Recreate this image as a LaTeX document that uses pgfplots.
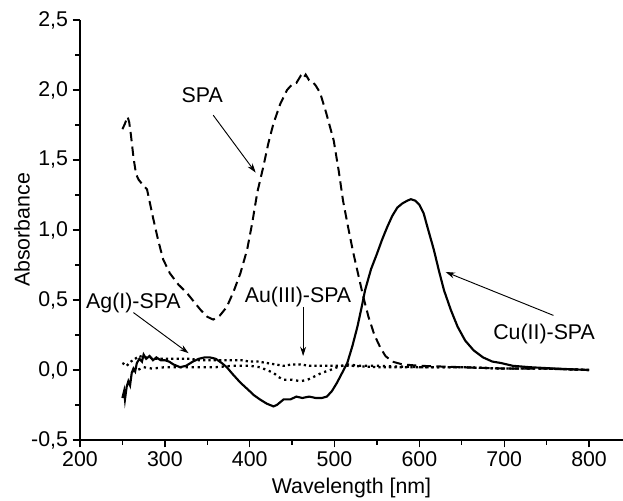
\documentclass[border=0pt]{standalone}
\usepackage{pgfplots}
\pgfplotsset{compat=1.18}
\usepackage{fontspec}
\setmainfont{Liberation Sans}
\usetikzlibrary{arrows.meta}

\begin{document}
\begin{tikzpicture}
\begin{axis}[
  scale only axis, width=407.25pt, height=315pt,
  xmin=200, xmax=840, ymin=-0.5, ymax=2.5,
  axis x line*=bottom, axis y line*=left,
  axis line style={line width=1.2pt},
  xtick={200,300,...,800}, ytick={-0.5,0,...,2.5},
  minor x tick num=1, minor y tick num=1,
  tick align=outside, major tick length=5.5pt, minor tick length=3.5pt,
  tick style={line width=1pt,black},
  font=\fontsize{16}{18}\selectfont,
  /pgf/number format/assume math mode=true,
  /pgf/number format/use comma,
  yticklabel style={/pgf/number format/fixed,/pgf/number format/fixed zerofill,/pgf/number format/precision=1},
  xticklabel style={/pgf/number format/1000 sep={}},
  xlabel={Wavelength [nm]}, ylabel={Absorbance},
  xlabel style={at={(axis description cs:0.5,-0.114)}, anchor=center},
  ylabel style={at={(axis description cs:-0.107,0.5)}, anchor=center},
  clip=false,
]
% SPA
\addplot[black, line width=1.5pt, dash pattern=on 7pt off 4pt] coordinates {
(250,1.72) (253,1.76) (256,1.81) (258,1.77) (260,1.68) (263,1.52) (266,1.40) (269,1.36)
(273,1.33) (279,1.29) (286,1.09) (292,0.93) (298,0.79) (306,0.69) (316,0.61) (326,0.55)
(334,0.49) (342,0.43) (350,0.38) (357,0.36) (365,0.39) (373,0.45) (381,0.56) (389,0.69)
(397,0.86) (403,1.05) (409,1.27) (416,1.45) (422,1.62) (428,1.76) (436,1.90) (444,2.00)
(450,2.04) (455,2.05) (460,2.10) (463,2.08) (466,2.11) (470,2.07) (474,2.06) (478,2.03)
(483,1.98) (490,1.84) (499,1.64) (505,1.42) (510,1.21) (516,1.02) (522,0.84) (528,0.68)
(534,0.52) (540,0.38) (547,0.25) (554,0.16) (560,0.10) (568,0.06) (580,0.04) (600,0.03)
(650,0.02) (700,0.01) (750,0.01) (800,0.00)};
% Cu(II)-SPA
\addplot[black, line width=1.6pt] coordinates {
(250,-0.20) (252,-0.15) (253,-0.21) (255,-0.12) (257,-0.08) (259,-0.11) (261,-0.02) (263,0.01)
(265,-0.01) (267,0.05) (270,0.08) (273,0.06) (275,0.11) (278,0.08) (282,0.10) (286,0.07)
(290,0.09) (295,0.07) (300,0.07) (305,0.06) (310,0.04) (318,0.02) (325,0.03) (333,0.06)
(340,0.08) (347,0.09) (353,0.09) (360,0.08) (367,0.05) (373,0.02) (380,-0.03) (389,-0.09)
(398,-0.14) (405,-0.18) (412,-0.21) (420,-0.24) (428,-0.26) (432,-0.25) (436,-0.23) (440,-0.21)
(448,-0.21) (455,-0.19) (462,-0.20) (470,-0.19) (478,-0.20) (485,-0.20) (491,-0.19) (497,-0.15)
(503,-0.09) (509,-0.02) (515,0.05) (521,0.17) (527,0.31) (532,0.45) (536,0.57) (543,0.72)
(550,0.83) (556,0.93) (562,1.02) (568,1.10) (574,1.16) (580,1.19) (586,1.21) (590,1.22)
(595,1.21) (600,1.18) (605,1.12) (610,1.01) (617,0.86) (623,0.71) (629,0.57) (637,0.43)
(645,0.31) (654,0.21) (664,0.14) (675,0.09) (686,0.06) (696,0.05) (710,0.03) (730,0.02)
(760,0.01) (800,0.00)};
% Ag(I)-SPA
\addplot[black, line width=1.7pt, dash pattern=on 1.7pt off 2.3pt] coordinates {
(250,0.05) (255,0.03) (260,0.06) (265,0.08) (270,0.10) (275,0.09) (280,0.09) (290,0.08)
(300,0.08) (310,0.08) (320,0.08) (330,0.08) (340,0.07) (350,0.07) (360,0.07) (370,0.07)
(380,0.07) (390,0.07) (400,0.06) (410,0.06) (420,0.05) (430,0.04) (440,0.03) (450,0.04)
(460,0.04) (470,0.03) (480,0.03) (490,0.03) (500,0.03) (520,0.03) (550,0.02) (600,0.02)
(650,0.02) (700,0.01) (750,0.01) (800,0.00)};
% Au(III)-SPA
\addplot[black, line width=1.7pt, dash pattern=on 1.7pt off 2.8pt] coordinates {
(262,-0.01) (268,0.00) (275,0.02) (285,0.01) (300,0.02) (320,0.02) (340,0.02) (360,0.02)
(380,0.03) (400,0.03) (412,0.02) (420,0.00) (428,-0.02) (434,-0.05) (440,-0.07) (450,-0.07)
(460,-0.08) (468,-0.07) (475,-0.05) (485,-0.02) (495,0.00) (503,0.02) (515,0.04) (530,0.03)
(550,0.03) (600,0.02) (650,0.02) (700,0.01) (750,0.01) (800,0.00)};

\node at (axis cs:344,1.96) {SPA};
\draw[-{Stealth[length=7pt,width=4.5pt]}, line width=0.7pt] (axis cs:357,1.82) -- (axis cs:407,1.41);
\node at (axis cs:263,0.48) {Ag(I)-SPA};
\draw[-{Stealth[length=7pt,width=4.5pt]}, line width=0.7pt] (axis cs:263,0.41) -- (axis cs:328,0.12);
\node at (axis cs:457,0.52) {Au(III)-SPA};
\draw[-{Stealth[length=7pt,width=4.5pt]}, line width=0.7pt] (axis cs:463,0.45) -- (axis cs:463,0.10);
\node at (axis cs:747,0.26) {Cu(II)-SPA};
\draw[-{Stealth[length=7pt,width=4.5pt]}, line width=0.7pt] (axis cs:758,0.39) -- (axis cs:631,0.70);

\coordinate (bl) at (rel axis cs:0,0);
\coordinate (tr) at (rel axis cs:1,1);
\end{axis}
\pgfresetboundingbox
\path ([shift={(-60pt,-45.75pt)}]bl) rectangle ([shift={(0pt,15pt)}]tr);
\end{tikzpicture}
\end{document}
